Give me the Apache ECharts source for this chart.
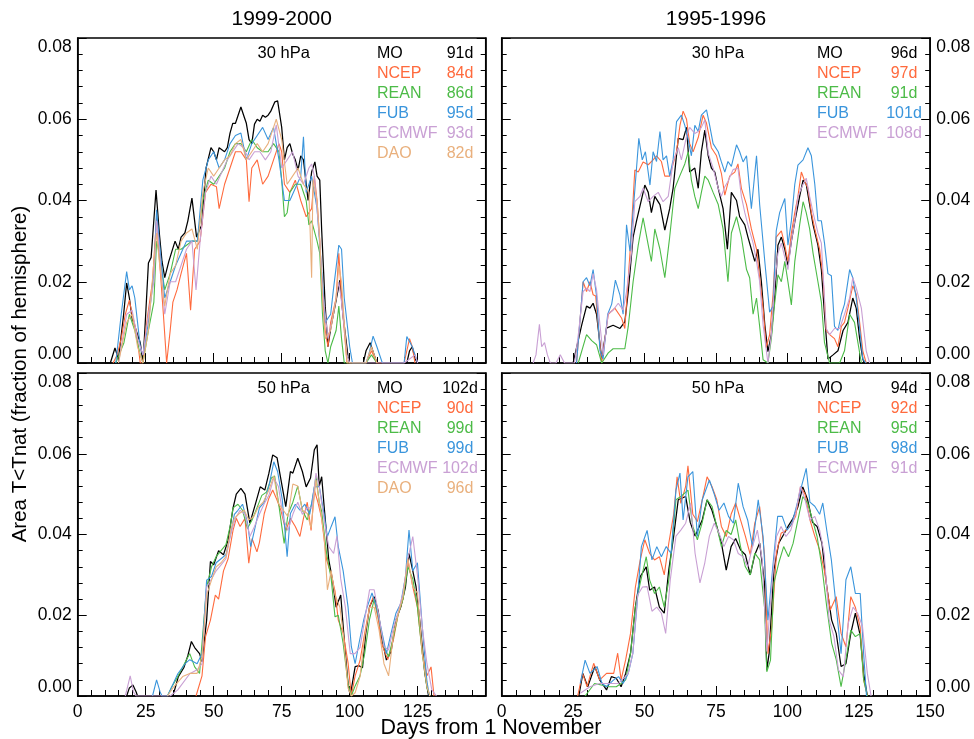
<!DOCTYPE html>
<html>
<head>
<meta charset="utf-8">
<script src="https://cdn.jsdelivr.net/npm/echarts@6/dist/echarts.min.js"></script>
<style>html,body{margin:0;padding:0;background:#fff}#c{width:974px;height:739px}</style>
</head>
<body>
<div id="c"></div>
<script>
// ---------- data ----------
const seriesNames = ['MO', 'NCEP', 'REAN', 'FUB', 'ECMWF', 'DAO'];
const colors = ['#000000', '#ff6a3d', '#4cbb47', '#3a95dc', '#c9a0d4', '#e9b07d'];
const columnTitles = ['1999-2000', '1995-1996'];
const panelLevels = ['30 hPa', '30 hPa', '50 hPa', '50 hPa'];
const xTicks = [0, 25, 50, 75, 100, 125, 150];
const yTicks = [0.00, 0.02, 0.04, 0.06, 0.08];
const xTitle = 'Days from 1 November';
const yTitle = 'Area T<Tnat (fraction of hemisphere)';

const daysTL = ['91d', '84d', '86d', '95d', '93d', '82d'];
const daysTR = ['96d', '97d', '91d', '101d', '108d'];
const daysBL = ['102d', '90d', '99d', '99d', '102d', '96d'];
const daysBR = ['94d', '92d', '95d', '98d', '91d'];

// Top-left: 1999-2000, 30 hPa  ([day, area])
const tl_MO = [[10,0],[12,0],[13.7,0.0037],[15,0.001],[16.8,0.0114],[18,0.0197],[19,0.016],[20,0.011],[21,0.009],[23,0.005],[24,0],[25,0.012],[26,0.0246],[27,0.026],[28.8,0.0426],[30,0.032],[31,0.025],[32,0.021],[33.5,0.025],[35.8,0.030],[37,0.028],[38,0.031],[39.4,0.032],[40.5,0.035],[42,0.0406],[43.7,0.031],[45.6,0.034],[47.2,0.048],[49,0.053],[50,0.052],[51,0.050],[52,0.053],[54,0.052],[55,0.053],[56,0.0566],[57,0.059],[58,0.059],[60,0.063],[61,0.061],[62,0.059],[63,0.055],[64,0.054],[65,0.0588],[66,0.060],[67,0.0595],[68,0.061],[69,0.0605],[70,0.061],[71,0.062],[72.5,0.0643],[73.5,0.0645],[75,0.058],[76,0.050],[77,0.053],[78,0.054],[79,0.0515],[80,0.050],[81,0.0475],[82,0.051],[83,0.050],[84.7,0.040],[86,0.047],[87.2,0.0495],[88,0.046],[89,0.045],[89.7,0.0327],[91,0.014],[92,0.004],[93,0.0085],[94.6,0.014],[96.4,0.0204],[97.5,0.012],[99.4,0.0015],[100,0],[105,0],[106,0.003],[107.5,0.005],[109,0.002],[110,0],[121,0],[122,0.003],[123,0.004],[124,0.001],[125,0]];
const tl_NCEP = [[13,0],[14.5,0.002],[16,0.006],[17.5,0.012],[19,0.0155],[20,0.012],[21.5,0.008],[23,0],[24,0],[25,0.008],[26,0.013],[27.5,0.020],[29,0.036],[30,0.026],[31.5,0.012],[32.7,0],[34,0.008],[35,0.015],[36.5,0.018],[38,0.022],[40,0.027],[41.5,0.013],[43,0.028],[45,0.030],[47,0.042],[49,0.044],[51,0.0434],[52,0.038],[54,0.044],[56,0.048],[58,0.052],[60,0.052],[62,0.050],[63,0.0397],[64,0.048],[66,0.050],[68,0.044],[70,0.046],[72,0.050],[74,0.054],[75,0.052],[76,0.044],[78,0.042],[80,0.045],[82,0.040],[84,0.036],[86,0.038],[87,0.046],[88,0.040],[89,0.030],[90,0.016],[91,0.008],[92,0.004],[93,0.010],[95,0.016],[96,0.027],[97,0.016],[98,0.008],[99,0],[106,0],[108,0.003],[110,0],[120,0],[122,0.006],[123,0.004],[124,0]];
const tl_REAN = [[14,0],[17,0.005],[19,0.012],[21,0.008],[23,0.002],[24,0],[26,0.008],[28,0.015],[29,0.030],[30,0.027],[32,0.018],[34,0.022],[36,0.028],[38,0.028],[40,0.029],[42,0.030],[44,0.030],[46,0.040],[48,0.045],[50,0.044],[52,0.046],[54,0.048],[56,0.052],[58,0.054],[60,0.054],[62,0.052],[64,0.055],[66,0.053],[68,0.052],[70,0.052],[72,0.054],[74,0.052],[75,0.045],[76,0.036],[77,0.037],[78,0.042],[80,0.044],[82,0.044],[84,0.040],[85,0.034],[86,0.035],[88,0.030],[89,0.027],[90,0.012],[91,0.003],[92,0],[93,0.004],[95,0.008],[96,0.014],[97,0.006],[98,0],[106,0],[108,0.002],[110,0]];
const tl_FUB = [[14,0],[16,0.012],[18,0.0225],[19,0.018],[20,0.019],[21,0.016],[22,0.010],[23,0.004],[24,0.002],[26,0.010],[28,0.022],[29,0.0377],[30,0.030],[32,0.016],[34,0.020],[36,0.024],[38,0.027],[40,0.030],[42,0.030],[44,0.030],[46,0.045],[48,0.050],[50,0.052],[52,0.048],[54,0.050],[56,0.054],[58,0.056],[60,0.0566],[62,0.050],[64,0.054],[66,0.056],[68,0.058],[70,0.055],[72,0.058],[74,0.050],[76,0.040],[78,0.040],[80,0.043],[82,0.046],[83,0.0557],[84,0.042],[86,0.046],[88,0.038],[90,0.020],[91,0.010],[93,0.012],[94,0.018],[96,0.029],[97,0.028],[98,0.016],[100,0.004],[101,0],[106,0],[107,0.002],[108.6,0.0066],[110,0.004],[112,0],[120,0],[121,0.0065],[123,0.004],[125,0]];
const tl_ECMWF = [[15,0],[18,0.012],[20,0.013],[22,0.006],[24,0.002],[26,0.012],[28,0.020],[29,0.035],[30,0.028],[32,0.012],[34,0.020],[36,0.020],[38,0.024],[40,0.028],[42,0.030],[43.5,0.018],[45,0.030],[47,0.042],[49,0.046],[51,0.044],[53,0.047],[55,0.050],[57,0.052],[59,0.054],[61,0.053],[63,0.050],[65,0.052],[67,0.052],[69,0.050],[71,0.052],[73,0.0586],[75,0.048],[77,0.050],[79,0.052],[81,0.046],[83,0.044],[85,0.048],[86,0.049],[87,0.046],[89,0.030],[90,0.018],[92,0.006],[94,0.012],[96,0.020],[97,0.015],[99,0.002],[100,0],[120,0],[122,0.001],[124,0.002],[125,0]];
const tl_DAO = [[15,0],[18,0.010],[20,0.012],[22,0.004],[24,0],[26,0.008],[28,0.025],[29,0.032],[30,0.025],[32,0.014],[34,0.022],[36,0.024],[38,0.030],[40,0.032],[42,0.033],[44,0.028],[46,0.042],[48,0.048],[50,0.046],[52,0.048],[54,0.050],[56,0.051],[58,0.054],[60,0.055],[62,0.050],[64,0.052],[66,0.054],[68,0.052],[70,0.054],[72,0.058],[73,0.060],[75,0.055],[77,0.044],[79,0.046],[81,0.048],[83,0.044],[85,0.042],[86,0.021],[86.5,0.045],[88,0.040],[89,0.030],[90,0.016],[91,0.006],[93,0.008],[95,0.016],[96,0.024],[97,0.020],[98,0.010],[99,0],[106,0],[108,0.004],[110,0]];

// Top-right: 1995-1996, 30 hPa
const tr_MO = [[25,0],[28,0.0093],[29.7,0.014],[30.9,0.0135],[32,0.0147],[33.2,0.012],[35,0.001],[36.7,0.0086],[39,0.0093],[41.4,0.0085],[43.1,0.0101],[44.3,0.0176],[46,0.031],[47.2,0.035],[50.1,0.0438],[51.3,0.042],[52.4,0.037],[53.6,0.041],[55.4,0.039],[57.1,0.0327],[58.8,0.038],[60,0.043],[61.8,0.0553],[63.5,0.055],[64.7,0.058],[65.8,0.047],[67.6,0.048],[68.8,0.043],[69.9,0.052],[71.1,0.0573],[72.3,0.051],[73.4,0.048],[74.6,0.047],[75.8,0.043],[77.5,0.038],[79,0.028],[80.4,0.042],[82.2,0.040],[83.3,0.036],[85.1,0.034],[86.2,0.031],[87.4,0.028],[88.6,0.025],[89.7,0.028],[90.9,0.020],[92.1,0.0094],[93.2,0.0028],[94.4,0.007],[95.6,0.0167],[96.7,0.029],[97.9,0.031],[99.1,0.028],[100.2,0.024],[101.4,0.030],[102.6,0.0348],[104.3,0.041],[105.5,0.045],[106.6,0.044],[107.8,0.039],[109,0.034],[110.7,0.029],[111.9,0.023],[113,0.012],[114.2,0.001],[116,0.002],[117.7,0.003],[119.5,0.008],[121.2,0.010],[122.9,0.016],[124.1,0.0135],[125.3,0.006],[126.4,0.001],[127,0]];
const tr_NCEP = [[26.2,0],[28.5,0.020],[29.7,0.0176],[30.9,0.020],[32,0.0168],[32.9,0.0165],[33.8,0.009],[35,0],[37.3,0.012],[39.6,0.0135],[42,0.011],[43.1,0.0085],[44.9,0.027],[46.6,0.0475],[47.8,0.047],[49.5,0.0495],[51.3,0.0488],[53,0.050],[54.2,0.051],[55.9,0.0496],[57.1,0.046],[58.8,0.046],[60,0.049],[61.2,0.052],[62.4,0.0585],[63.5,0.062],[64.7,0.060],[65.8,0.054],[67,0.052],[68.8,0.0555],[70.5,0.061],[71.7,0.059],[73.4,0.053],[75.2,0.051],[76.9,0.0467],[78.1,0.0413],[79.8,0.046],[81.6,0.047],[82.7,0.049],[83.9,0.043],[85.7,0.039],[87.4,0.033],[89.2,0.028],[90.3,0.021],[91.5,0.0135],[92.6,0.0038],[93.8,0.007],[95,0.017],[96.1,0.031],[97.9,0.0325],[99.1,0.029],[100.2,0.025],[101.4,0.032],[102.6,0.037],[103.7,0.041],[104.9,0.047],[106.1,0.0447],[107.2,0.043],[108.4,0.037],[109.6,0.033],[111.3,0.028],[112.5,0.021],[113.6,0.008],[114.8,0.007],[116.5,0.006],[117.7,0.004],[118.9,0.009],[120,0.010],[121.2,0.0135],[122.9,0.019],[124.1,0.017],[125.3,0.010],[126.4,0.003],[127.6,0]];
const tr_REAN = [[26.8,0],[29.7,0.007],[31.5,0.0055],[33.2,0.0045],[35,0],[37.3,0.0025],[39,0.0035],[41.4,0.0035],[43.1,0.0035],[44.3,0.009],[46,0.020],[47.8,0.029],[49.5,0.0357],[51.3,0.029],[52.4,0.025],[53.6,0.033],[55.4,0.028],[57.1,0.021],[58.8,0.031],[60.6,0.043],[62.3,0.046],[64.1,0.049],[65.3,0.052],[66.4,0.045],[67.6,0.041],[68.8,0.038],[69.9,0.042],[71.1,0.046],[72.3,0.045],[74,0.042],[75.8,0.039],[77.5,0.033],[79.2,0.020],[80.4,0.032],[82.2,0.036],[83.9,0.031],[85.7,0.023],[86.8,0.021],[88,0.012],[89.2,0.016],[90.3,0.009],[91.5,0.0008],[93.2,0],[94.4,0.006],[95.6,0.015],[96.7,0.0217],[97.9,0.020],[99.1,0.025],[100.2,0.020],[101.4,0.0143],[102.6,0.025],[104.3,0.034],[105.5,0.0397],[106.6,0.037],[107.8,0.033],[109,0.027],[110.7,0.020],[111.9,0.015],[113,0.005],[114.8,0],[118.3,0],[120,0.003],[121.8,0.012],[123.5,0.010],[124.7,0.005],[125.9,0]];
const tr_FUB = [[26.2,0],[28.5,0.020],[29.7,0.021],[30.9,0.019],[32,0.023],[33.2,0.0165],[34.4,0.003],[35.5,0.001],[37.1,0.012],[38.5,0.0145],[39.8,0.0204],[41.4,0.0167],[42.5,0.012],[43.7,0.034],[44.9,0.0275],[46,0.0372],[47.2,0.048],[48,0.0553],[49.2,0.050],[50.3,0.052],[51.9,0.0438],[53,0.052],[54.2,0.0496],[55.4,0.057],[56.5,0.050],[57.7,0.051],[58.8,0.046],[60,0.050],[61.2,0.0594],[62.9,0.061],[64.1,0.0585],[65.3,0.055],[66.4,0.051],[67.6,0.0585],[68.8,0.057],[69.9,0.061],[71.7,0.0623],[72.8,0.0585],[74,0.054],[75.8,0.052],[76.9,0.0495],[78.1,0.047],[79.2,0.0496],[80.4,0.0484],[82.2,0.0537],[83.3,0.052],[84.5,0.0495],[85.7,0.051],[87.4,0.038],[89.2,0.051],[90.3,0.039],[92.1,0.025],[93.8,0.0125],[95,0.014],[96.1,0.0325],[97.3,0.037],[99.1,0.0405],[100.2,0.029],[101.4,0.035],[102.6,0.044],[103.7,0.0487],[105.5,0.050],[107.2,0.053],[108.4,0.051],[109.6,0.044],[110.7,0.035],[111.9,0.035],[113,0.0295],[114.2,0.022],[115.4,0.0215],[116.5,0.009],[117.7,0.008],[118.9,0.012],[120,0.0145],[121.8,0.023],[122.9,0.021],[124.1,0.016],[125.3,0.0085],[126.4,0.001],[127.5,0]];
const tr_ECMWF = [[11,0],[12,0.002],[13.2,0.0095],[14,0.004],[15,0.005],[16,0.002],[17,0],[19,0],[20.5,0.002],[22,0],[25.5,0],[26.8,0.0069],[28.5,0.0176],[29.7,0.0184],[30.9,0.0176],[32,0.022],[33.2,0.018],[34.4,0.0094],[35.5,0.002],[37.3,0.0122],[39,0.013],[40.8,0.0147],[42.5,0.013],[43.7,0.0176],[45.4,0.027],[46.6,0.0397],[48.4,0.041],[49.5,0.043],[51.3,0.0397],[53,0.041],[54.8,0.042],[56.5,0.0397],[58.3,0.041],[60,0.0495],[61.8,0.053],[62.9,0.050],[64.7,0.0558],[65.8,0.058],[67.6,0.0565],[68.8,0.057],[69.9,0.058],[71.1,0.0598],[72.3,0.0516],[74,0.048],[75.8,0.043],[76.9,0.041],[78.1,0.0434],[79.2,0.0447],[81,0.0476],[82.7,0.048],[83.9,0.041],[85.1,0.037],[86.2,0.034],[88,0.0295],[89.2,0.025],[90.3,0.020],[91.5,0.0094],[93.2,0],[94.4,0.007],[95.6,0.020],[96.7,0.027],[97.9,0.0295],[99.1,0.026],[100.2,0.023],[101.4,0.030],[102.6,0.035],[103.7,0.041],[105.5,0.044],[106.6,0.0455],[107.8,0.041],[109,0.037],[110.7,0.032],[111.9,0.0295],[113.6,0.0085],[114.8,0.007],[116.5,0.0085],[118.3,0.0085],[120,0.012],[121.8,0.016],[122.9,0.021],[124.1,0.0185],[125.9,0.0135],[127.6,0.003],[128.8,0]];

// Bottom-left: 1999-2000, 50 hPa
const bl_MO = [[18,0],[19,0.002],[20.3,0.0027],[21.5,0.001],[22,0],[35,0],[37,0.0048],[39,0.007],[40.5,0.010],[41.8,0.0135],[43,0.012],[44.8,0.0105],[45.7,0.0085],[47.4,0.0188],[48.8,0.0333],[50,0.0325],[51.8,0.036],[53.6,0.035],[55.3,0.0386],[57.1,0.0465],[58.3,0.050],[60,0.0514],[61.5,0.050],[63.3,0.0428],[65.4,0.0477],[67.1,0.0518],[68.8,0.051],[70.3,0.0552],[71.7,0.0597],[73.3,0.059],[75.2,0.0518],[76.5,0.0469],[78.2,0.0556],[79.1,0.0552],[80.9,0.0589],[82.6,0.0556],[84,0.0518],[85.6,0.054],[87,0.061],[88,0.0622],[88.8,0.052],[89.7,0.0543],[90.6,0.047],[92.3,0.0337],[93.6,0.029],[95,0.022],[96.7,0.025],[98.2,0.0122],[99.4,0.003],[100.2,0],[102,0.0073],[103.4,0.0075],[104.7,0.007],[105.9,0.0155],[107.3,0.0221],[109,0.0246],[110.5,0.021],[111.7,0.0147],[113.5,0.0089],[115.2,0.011],[117,0.0188],[118.8,0.0221],[120.5,0.027],[121.8,0.0353],[123.2,0.031],[124.4,0.027],[125.8,0.0184],[127.6,0.0057],[129,0]];
const bl_NCEP = [[43.5,0],[45.7,0.005],[47,0.0147],[48.8,0.0188],[50.6,0.025],[51.8,0.024],[53.6,0.031],[55.3,0.034],[57.1,0.041],[58.3,0.044],[59.7,0.042],[61.5,0.044],[62.9,0.0329],[64.1,0.039],[65.9,0.0357],[66.8,0.038],[68.6,0.0452],[70.3,0.049],[71.7,0.051],[73,0.049],[74.7,0.046],[76.5,0.041],[78.2,0.044],[80,0.042],[81.7,0.0395],[83,0.044],[84.4,0.048],[85.8,0.041],[87,0.051],[88.3,0.048],[89.7,0.044],[91.5,0.0337],[93.2,0.030],[94.6,0.026],[95.8,0.0188],[97.6,0.0155],[99.4,0.0082],[100.6,0],[102,0.005],[103.8,0.0088],[105.5,0.0155],[107.3,0.022],[108.7,0.0246],[110.5,0.019],[111.7,0.013],[114,0.009],[116.1,0.014],[117.9,0.0205],[119.6,0.024],[121.4,0.0337],[123.2,0.027],[124.9,0.022],[126.7,0.0105],[128.4,0.005],[129.9,0.0072],[131,0]];
const bl_REAN = [[33,0],[34.6,0.0023],[36.8,0.0048],[38.6,0.0072],[41.2,0.0105],[43,0.0072],[44.8,0.0056],[46,0.0155],[47.4,0.027],[49.2,0.032],[50.9,0.0345],[52.7,0.036],[54.5,0.0375],[56.2,0.0425],[57.1,0.0466],[58.9,0.0475],[60.6,0.046],[62.4,0.0415],[64.1,0.0436],[65.9,0.0466],[67.7,0.0497],[69.4,0.0505],[71.2,0.054],[72.4,0.0545],[73.8,0.048],[75.9,0.0378],[77.3,0.045],[79.1,0.048],[80.9,0.052],[82.6,0.046],[84.4,0.0436],[86.2,0.048],[87.6,0.0545],[88.8,0.048],[89.7,0.0457],[91.5,0.0354],[93.2,0.029],[94.6,0.0196],[95.8,0.020],[97.6,0.013],[99.4,0.003],[100.6,0],[102,0.0025],[103.8,0.005],[105.5,0.0105],[107.3,0.019],[109,0.024],[110.8,0.019],[112.6,0.0122],[114.3,0.0097],[116.1,0.0147],[117.9,0.0205],[119.6,0.024],[121.4,0.032],[123.2,0.029],[124.9,0.022],[126.7,0.0105],[128.4,0.002],[129.5,0]];
const bl_FUB = [[27.5,0],[29,0.004],[30.3,0.001],[31,0],[33,0],[34.6,0.0023],[36.8,0.0055],[39.5,0.008],[41.2,0.009],[43.9,0.008],[45.7,0.0105],[47.4,0.0287],[49.2,0.0296],[50.9,0.033],[52.7,0.034],[54.5,0.035],[56.2,0.040],[57.6,0.045],[58.9,0.046],[60.6,0.0475],[62.4,0.043],[63.6,0.037],[65,0.0411],[66.8,0.0466],[68.6,0.048],[70.3,0.052],[72.1,0.058],[73.5,0.0556],[75.2,0.0487],[77,0.0345],[78.2,0.0452],[80,0.0475],[81.7,0.046],[83.5,0.0475],[85.3,0.045],[87,0.0518],[88.8,0.0519],[90.6,0.045],[91.8,0.0395],[93.2,0.042],[94.6,0.0444],[95.8,0.037],[97.6,0.031],[99.4,0.022],[100.6,0.0122],[102,0.008],[103.4,0.013],[105.2,0.019],[106.4,0.022],[108.2,0.0255],[109.9,0.022],[111.7,0.0163],[113.5,0.0105],[115.2,0.0155],[117,0.0205],[118.8,0.023],[120.5,0.0296],[121.8,0.0411],[123.2,0.031],[124.9,0.033],[126.7,0.017],[128.4,0.0036],[129.3,0]];
const bl_ECMWF = [[17.5,0],[19.3,0.005],[20.5,0.001],[21.5,0],[34,0],[36.8,0.0015],[41.2,0.0055],[43.9,0.0065],[45.7,0.008],[47.4,0.027],[49.2,0.029],[50.9,0.031],[52.7,0.0325],[54.5,0.034],[56.2,0.040],[58,0.044],[59.7,0.046],[61.5,0.045],[63.3,0.0395],[65,0.042],[66.8,0.045],[68.6,0.0477],[70.3,0.0497],[72.1,0.054],[73.8,0.0519],[75.6,0.044],[77.3,0.041],[79.1,0.045],[80.9,0.048],[82.6,0.045],[84.4,0.0466],[86.2,0.0466],[87.6,0.0552],[88.8,0.0519],[90.6,0.0436],[92.3,0.037],[94.1,0.0353],[95.3,0.0396],[96.7,0.029],[98.4,0.022],[100.2,0.0105],[101.9,0.0105],[103.8,0.012],[105.5,0.0188],[107.3,0.0263],[109,0.0263],[110.8,0.0196],[112.6,0.0122],[114.3,0.0114],[116.1,0.017],[117.9,0.021],[119.6,0.0255],[121.4,0.034],[123.2,0.0395],[124.9,0.030],[126.7,0.017],[128.4,0.008],[130.2,0.0015],[131.9,0]];
const bl_DAO = [[33,0],[35,0.002],[38.6,0.0048],[41.2,0.0056],[43.9,0.0056],[45.7,0.0097],[47.4,0.025],[49.2,0.0287],[50.9,0.032],[52.7,0.033],[54.5,0.0345],[56.2,0.041],[57.6,0.044],[59.4,0.0452],[61.2,0.046],[62.9,0.0436],[64.7,0.0444],[66.4,0.0468],[68.2,0.048],[70.3,0.051],[72.1,0.0545],[73.8,0.0477],[75.6,0.046],[77.3,0.0444],[79.1,0.0525],[80.9,0.052],[82.6,0.046],[84.4,0.0452],[85.8,0.0416],[87.6,0.0535],[88.8,0.048],[90.6,0.0395],[91.8,0.0263],[93.2,0.031],[94.6,0.025],[96.4,0.022],[97.6,0.0155],[99.4,0.002],[100.6,0],[102,0.0008],[103.8,0.0048],[105.5,0.0147],[107.3,0.022],[109,0.022],[110.8,0.0163],[112.6,0.008],[114.3,0.005],[116.1,0.0155],[117.9,0.0205],[119.6,0.0246],[121.4,0.034],[123.2,0.027],[124.9,0.0255],[126.7,0.0105],[128.4,0.0023],[129.5,0]];

// Bottom-right: 1995-1996, 50 hPa
const br_MO = [[27,0],[28.4,0.0056],[30.1,0.0023],[32.6,0.0073],[34.3,0.004],[36.7,0.0015],[38.4,0.0048],[40.1,0.0044],[41.8,0.0023],[43.4,0.0056],[45.1,0.0106],[46.8,0.0221],[48.5,0.0296],[50.6,0.032],[51.8,0.0262],[53.5,0.027],[55.2,0.022],[56.9,0.0205],[58.5,0.0313],[60.2,0.0396],[61.8,0.0486],[64.4,0.0494],[66,0.043],[67.7,0.0396],[70.2,0.0436],[71.9,0.0486],[73.6,0.046],[75.3,0.042],[76.9,0.0379],[78.6,0.0312],[80.3,0.037],[81.9,0.039],[83.6,0.0362],[85.3,0.035],[87,0.030],[88.6,0.035],[90.3,0.0379],[92,0.028],[92.8,0.0064],[93.6,0.0105],[95.3,0.0313],[97,0.0379],[98.7,0.040],[100.4,0.0422],[102,0.044],[103.7,0.0469],[105.4,0.0518],[107.1,0.0486],[108.8,0.043],[110.4,0.042],[112.1,0.0379],[113.8,0.027],[115.5,0.0188],[117.1,0.0155],[118.8,0.0073],[120.5,0.008],[122.2,0.0155],[123.8,0.0205],[125.5,0.015],[126.7,0.0056],[128,0]];
const br_NCEP = [[26.6,0],[28.3,0.0056],[29.9,0.0023],[32.2,0.0081],[34.3,0.004],[36.7,0.0056],[39.2,0.0056],[40.6,0.0106],[41.8,0.004],[43.4,0.009],[45.1,0.0155],[46.8,0.027],[48.5,0.0337],[50.1,0.0387],[51.8,0.0353],[53.5,0.0337],[55.2,0.0345],[56.9,0.030],[58.5,0.0379],[60.2,0.045],[61.4,0.0543],[62.7,0.0477],[64.4,0.0519],[65.2,0.057],[66.9,0.045],[68.5,0.0432],[70.2,0.0486],[71.9,0.0543],[73.6,0.0519],[75.3,0.0486],[76.9,0.042],[78.6,0.0395],[80.3,0.045],[81.9,0.0478],[83.6,0.0436],[85.3,0.0396],[87,0.035],[88.6,0.0428],[90.3,0.0469],[92,0.035],[93.2,0.0105],[94.5,0.017],[96.2,0.0355],[97.8,0.0403],[99.5,0.041],[101.2,0.0422],[102.9,0.0445],[104.6,0.0518],[106.2,0.050],[107.9,0.0436],[109.6,0.0396],[111.3,0.0362],[112.9,0.0313],[115,0.0213],[117.1,0.0246],[118.8,0.0155],[120.5,0.0122],[122.2,0.0246],[123.8,0.022],[125.5,0.017],[126.7,0.004],[128,0]];
const br_REAN = [[29.2,0],[32.5,0.0031],[37.6,0.0023],[40.1,0.0023],[41.8,0.0031],[43.4,0.004],[45.1,0.0106],[46.8,0.022],[48.5,0.028],[50.6,0.0345],[51.8,0.0287],[53.5,0.0254],[55.2,0.027],[56.9,0.022],[58.5,0.0287],[61,0.0486],[62.7,0.0494],[65.2,0.051],[66.9,0.042],[68.5,0.0387],[70.2,0.043],[71.9,0.0486],[73.6,0.047],[75.3,0.042],[76.9,0.037],[78.6,0.041],[80.3,0.040],[81.9,0.0436],[83.6,0.037],[85.3,0.032],[87,0.030],[88.6,0.0354],[90.3,0.0337],[92,0.022],[92.8,0.006],[94.1,0.0089],[95.3,0.028],[97,0.033],[98.7,0.037],[100.4,0.0345],[102,0.0378],[103.7,0.0436],[105.4,0.0494],[107.1,0.0478],[108.8,0.0436],[110.4,0.0395],[112.1,0.032],[113.8,0.022],[115.5,0.0131],[117.1,0.009],[118.8,0.0023],[120.5,0.009],[122.2,0.0163],[123.8,0.0147],[125.5,0.0155],[126.7,0.004],[128,0]];
const br_FUB = [[27.5,0.0031],[29.2,0.0089],[30.9,0.0056],[33.4,0.0073],[35.1,0.0031],[36.7,0.0023],[39.2,0.004],[40.9,0.0048],[42.5,0.0031],[44.3,0.0056],[45.9,0.0105],[47.3,0.022],[48.9,0.037],[50.9,0.041],[52.6,0.0337],[54.3,0.037],[55.9,0.0345],[57.6,0.037],[59.3,0.0353],[61,0.051],[62.4,0.0552],[63.5,0.0436],[65.2,0.0543],[66.9,0.0556],[68.5,0.0395],[70.2,0.0486],[72.7,0.0535],[74.4,0.050],[76.1,0.046],[77.8,0.0478],[79.4,0.0445],[81.1,0.0428],[82.8,0.0527],[84.5,0.0469],[86.1,0.0436],[87.8,0.037],[89.8,0.0486],[91.5,0.0395],[93.2,0.0188],[94.9,0.032],[96.6,0.0445],[98.2,0.0445],[99.9,0.0411],[101.6,0.0428],[103.2,0.047],[104.9,0.0518],[106.6,0.0564],[107.9,0.048],[109.6,0.047],[111.3,0.045],[112.4,0.0478],[113.8,0.041],[115.4,0.0337],[117.1,0.022],[118.8,0.0105],[120.5,0.0288],[122.2,0.032],[123.8,0.0254],[125.5,0.0254],[126.7,0.0105],[127.7,0]];
const br_ECMWF = [[27.5,0.0007],[30.9,0.0023],[34.2,0.0031],[37.6,0.0031],[40.9,0.0031],[44.3,0.0056],[45.9,0.0106],[47.6,0.025],[49.3,0.027],[50.9,0.0271],[52.6,0.021],[54.3,0.022],[55.9,0.0205],[57.4,0.0155],[59,0.0287],[61,0.0396],[62.7,0.0411],[64.4,0.0428],[66.1,0.0477],[67.7,0.0353],[69.4,0.028],[71.1,0.033],[72.7,0.0396],[74.4,0.0428],[76.1,0.0403],[77.8,0.037],[79.4,0.0395],[81.1,0.0387],[82.8,0.0353],[84.5,0.0345],[86.1,0.032],[87.8,0.037],[89.5,0.0411],[91.2,0.0337],[92.8,0.011],[94.5,0.027],[96.2,0.0395],[97.8,0.042],[99.5,0.0395],[101.2,0.0411],[102.9,0.0453],[104.6,0.052],[106.2,0.0486],[107.9,0.0436],[109.6,0.0445],[111.3,0.0411],[112.9,0.0353],[114.6,0.019],[116.3,0.0147],[117.9,0.0064],[119.6,0.0048],[121.3,0.018],[123,0.022],[124.6,0.0205],[126.3,0.0172],[128,0.0056],[129.3,0]];

const panelSeries = [
  [tl_MO, tl_NCEP, tl_REAN, tl_FUB, tl_ECMWF, tl_DAO],
  [tr_MO, tr_NCEP, tr_REAN, tr_FUB, tr_ECMWF],
  [bl_MO, bl_NCEP, bl_REAN, bl_FUB, bl_ECMWF, bl_DAO],
  [br_MO, br_NCEP, br_REAN, br_FUB, br_ECMWF]
];
const panelDays = [daysTL, daysTR, daysBL, daysBR];

// ---------- layout ----------
const FONT = '"Liberation Sans", Arial, Helvetica, sans-serif';
const panels = [
  {left: 77.7, top: 38, width: 408, height: 325, col: 0, row: 0},
  {left: 501.7, top: 38, width: 428.5, height: 325, col: 1, row: 0},
  {left: 77.7, top: 373, width: 408, height: 323, col: 0, row: 1},
  {left: 501.7, top: 373, width: 428.5, height: 323, col: 1, row: 1}
];

const grid = [], xAxis = [], yAxis = [], series = [], graphic = [];

panels.forEach((p, gi) => {
  grid.push({left: p.left, top: p.top, width: p.width, height: p.height,
    show: true, borderColor: '#000', borderWidth: 1.5, backgroundColor: 'transparent', containLabel: false});
  xAxis.push({
    type: 'value', gridIndex: gi, min: xTicks[0], max: xTicks[xTicks.length - 1], interval: 25,
    axisLine: {show: true, onZero: false, lineStyle: {color: '#000', width: 1.5}},
    axisTick: {show: true, inside: true, length: 10, lineStyle: {color: '#000', width: 1}},
    minorTick: {show: true, splitNumber: 5, length: 6, lineStyle: {color: '#000', width: 1}},
    splitLine: {show: false},
    axisLabel: {show: p.row === 1, color: '#000', fontSize: 17.5, fontFamily: FONT, margin: 7,
      formatter: v => (p.col === 0 && v === 150) ? '' : String(v)}
  });
  ['left', 'right'].forEach(pos => {
    const showLab = (p.col === 0 && pos === 'left') || (p.col === 1 && pos === 'right');
    yAxis.push({
      type: 'value', gridIndex: gi, position: pos, min: yTicks[0], max: yTicks[yTicks.length - 1], interval: 0.02,
      axisLine: {show: true, onZero: false, lineStyle: {color: '#000', width: 1.5}},
      axisTick: {show: true, inside: true, length: 9, lineStyle: {color: '#000', width: 1}},
      minorTick: {show: true, splitNumber: 5, length: 5, lineStyle: {color: '#000', width: 1}},
      splitLine: {show: false},
      axisLabel: {show: showLab, color: '#000', fontSize: 17.5, fontFamily: FONT, margin: 6,
        formatter: v => v.toFixed(2),
        verticalAlignMinLabel: 'bottom', verticalAlignMaxLabel: 'top'}
    });
  });
  panelSeries[gi].forEach((d, si) => {
    series.push({
      type: 'line', name: seriesNames[si] + '_' + gi, xAxisIndex: gi, yAxisIndex: gi * 2,
      data: d, showSymbol: false, symbol: 'none', clip: true, silent: true,
      lineStyle: {color: colors[si], width: si === 0 ? 1.25 : 1.1},
      z: 2
    });
  });
  // panel label
  graphic.push({type: 'text', x: p.left + p.width / 2 + 2, y: p.top + 15,
    style: {text: panelLevels[gi], fill: '#000', fontSize: 16.5, fontFamily: FONT, textAlign: 'center', textVerticalAlign: 'middle'}});
  // legend
  const nameX = p.col === 0 ? 377 : 817;
  const valX = p.col === 0 ? 460 : 904;
  panelDays[gi].forEach((dtxt, si) => {
    const yy = p.top + 15.5 + 20 * si;
    graphic.push({type: 'text', x: nameX, y: yy,
      style: {text: seriesNames[si], fill: colors[si], fontSize: 16, fontFamily: FONT, textAlign: 'left', textVerticalAlign: 'middle'}});
    graphic.push({type: 'text', x: valX, y: yy,
      style: {text: dtxt, fill: colors[si], fontSize: 16, fontFamily: FONT, textAlign: 'center', textVerticalAlign: 'middle'}});
  });
});

// column titles
graphic.push({type: 'text', x: 281.7, y: 19, style: {text: columnTitles[0], fill: '#000', fontSize: 21, fontFamily: FONT, textAlign: 'center', textVerticalAlign: 'middle'}});
graphic.push({type: 'text', x: 716, y: 19, style: {text: columnTitles[1], fill: '#000', fontSize: 21, fontFamily: FONT, textAlign: 'center', textVerticalAlign: 'middle'}});
// axis titles
graphic.push({type: 'text', x: 491, y: 728, style: {text: xTitle, fill: '#000', fontSize: 21.5, fontFamily: FONT, textAlign: 'center', textVerticalAlign: 'middle'}});
graphic.push({type: 'text', x: 20, y: 374, rotation: Math.PI / 2, style: {text: yTitle, fill: '#000', fontSize: 20.5, fontFamily: FONT, textAlign: 'center', textVerticalAlign: 'middle'}});

const chart = echarts.init(document.getElementById('c'), null, {renderer: 'canvas'});
chart.setOption({
  animation: false,
  backgroundColor: '#fff',
  textStyle: {fontFamily: FONT},
  grid, xAxis, yAxis, series, graphic
});
</script>
</body>
</html>
